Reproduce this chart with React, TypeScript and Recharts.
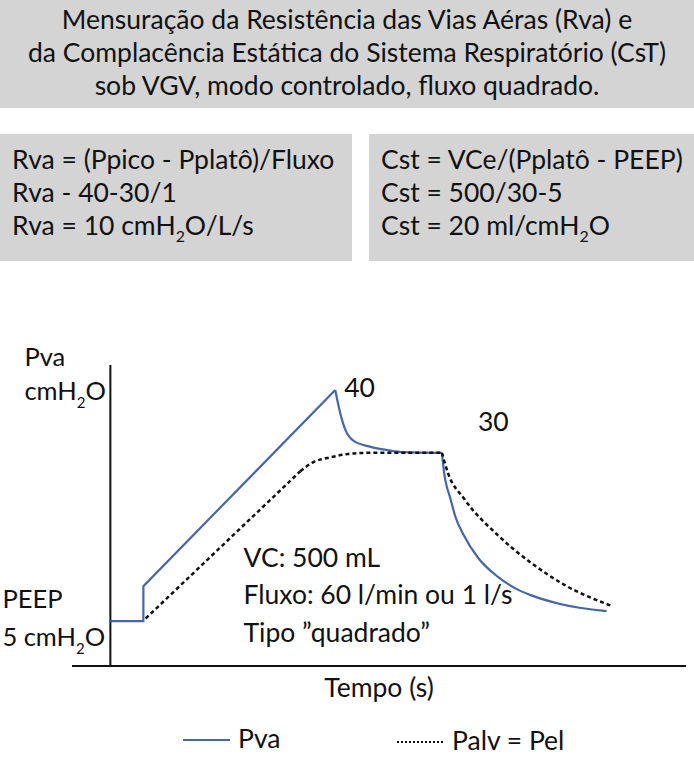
import React from "react";
import { LineChart, Line, XAxis, YAxis, ReferenceLine, ReferenceDot, Legend, Label } from "recharts";

const FONT = "Lato, 'Noto Sans', sans-serif";
const INK = "#111111";
const BOX_GREY = "#d4d4d4";
const PVA_BLUE = "#4666a9";
const FS = 26.5;

// texts of the header boxes
const titleLines = [
  "Mensuração da Resistência das Vias Aéras (Rva) e",
  "da Complacência Estática do Sistema Respiratório (CsT)",
  "sob VGV, modo controlado, fluxo quadrado.",
];
const rvaLines = ["Rva = (Ppico - Pplatô)/Fluxo", "Rva - 40-30/1", "Rva = 10 cmH2O/L/s"];
const cstLines = ["Cst = VCe/(Pplatô - PEEP)", "Cst = 500/30-5", "Cst = 20 ml/cmH2O"];
const noteLines = ["VC: 500 mL", "Fluxo: 60 l/min ou 1 l/s", "Tipo ”quadrado”"];

// Pva (airway pressure), time in s, pressure in cmH2O
const pvaRiseT = [0, 0.086, 0.086, 0.586];
const pvaRiseP = [5, 5, 10.3, 40];
const pvaHoldT = [0.586, 0.599, 0.613, 0.634, 0.678, 0.723, 0.764, 0.864];
const pvaHoldP = [40, 36.5, 33.9, 32.3, 31.4, 30.9, 30.6, 30.5];
const pvaFallT = [0.864, 0.869, 0.887, 0.898, 0.921, 0.958, 1.01, 1.054, 1.097, 1.172, 1.293];
const pvaFallP = [30.5, 27.8, 23.4, 21.0, 18.0, 14.6, 11.7, 10.0, 8.9, 7.6, 6.5];

// Palv = Pel (alveolar pressure)
const palvRiseT = [0.092, 0.495];
const palvRiseP = [5.4, 27.7];
const palvBendT = [0.495, 0.529, 0.573, 0.618, 0.678, 0.864];
const palvBendP = [27.7, 29.1, 29.8, 30.3, 30.5, 30.5];
const palvFallT = [0.864, 0.88, 0.921, 1.01, 1.097, 1.183, 1.306];
const palvFallP = [30.5, 27.4, 23.6, 18.0, 13.8, 10.5, 7.3];

const peakT = 0.586;
const peakP = 40;
const plateauEndT = 0.864;
const plateauP = 30.5;
const peepP = 5;
const noteT = 0.347;
const noteP = 13.2;

const toPoints = (t: number[], p: number[]) => t.map((v, i) => ({ t: v, p: p[i] }));

// "H2O" -> H with subscript 2, html version
const htmlSub = (s: string) => {
  const parts = s.split("H2O");
  return parts.map((part, i) => (
    <React.Fragment key={i}>
      {part}
      {i < parts.length - 1 && (
        <>
          H<span style={{ fontSize: "0.6em", position: "relative", top: "0.45em" }}>2</span>O
        </>
      )}
    </React.Fragment>
  ));
};

// same for svg text
const svgSub = (s: string) => {
  const parts = s.split("H2O");
  const out: React.ReactNode[] = [];
  parts.forEach((part, i) => {
    out.push(<tspan key={"p" + i}>{part}</tspan>);
    if (i < parts.length - 1) {
      out.push(<tspan key={"h" + i}>H</tspan>);
      out.push(<tspan key={"s" + i} dy={8} fontSize={15}>2</tspan>);
      out.push(<tspan key={"o" + i} dy={-8}>O</tspan>);
    }
  });
  return out;
};

const textProps = { fontFamily: FONT, fontSize: FS, fill: INK };
const sideProps = { ...textProps, fontSize: 25.5 };

const Box = ({ lines, style }: { lines: string[]; style: React.CSSProperties }) => (
  <div
    style={{
      position: "absolute",
      background: BOX_GREY,
      fontFamily: FONT,
      fontSize: FS,
      lineHeight: "33px",
      color: INK,
      boxSizing: "border-box",
      ...style,
    }}
  >
    {lines.map((l) => (
      <div key={l} style={{ whiteSpace: "nowrap" }}>{htmlSub(l)}</div>
    ))}
  </div>
);

const renderLegend = () => (
  <svg width={694} height={40} style={{ overflow: "visible" }}>
    <line x1={183} x2={230} y1={20} y2={20} stroke={PVA_BLUE} strokeWidth={2} />
    <text x={238} y={28} {...textProps}>Pva</text>
    <line x1={397} x2={443} y1={22} y2={22} stroke={INK} strokeWidth={2} strokeDasharray="2 2" />
    <text x={452} y={30} {...textProps}>Palv = Pel</text>
  </svg>
);

export default function App() {
  return (
    <div style={{ position: "absolute", left: 0, top: 0, width: 694, height: 760, background: "#fff" }}>
      <Box lines={titleLines} style={{ left: 0, top: 0, width: 694, height: 108, paddingTop: 3, textAlign: "center" }} />
      <Box lines={rvaLines} style={{ left: 0, top: 134, width: 352, height: 127, paddingTop: 9, paddingLeft: 12 }} />
      <Box lines={cstLines} style={{ left: 369, top: 134, width: 325, height: 127, paddingTop: 9, paddingLeft: 12 }} />

      <div style={{ position: "absolute", left: 0, top: 300 }}>
        <LineChart width={694} height={460} margin={{ top: 65, right: 8, left: 72, bottom: 64 }}>
          <XAxis
            type="number"
            dataKey="t"
            domain={[-0.1, 1.5]}
            allowDataOverflow
            ticks={[]}
            tick={false}
            tickLine={false}
            axisLine={{ stroke: INK, strokeWidth: 2 }}
            height={30}
          >
            <Label
              content={({ viewBox }: any) => (
                <text x={viewBox.x + viewBox.width / 2} y={viewBox.y + 31} textAnchor="middle" {...textProps}>
                  Tempo (s)
                </text>
              )}
            />
          </XAxis>
          <YAxis type="number" domain={[-1.8, 43.8]} allowDataOverflow hide width={0} />
          <ReferenceLine x={0} stroke={INK} strokeWidth={2} />

          <Line data={toPoints(pvaRiseT, pvaRiseP)} dataKey="p" type="linear" stroke={PVA_BLUE} strokeWidth={2.2} dot={false} isAnimationActive={false} />
          <Line data={toPoints(pvaHoldT, pvaHoldP)} dataKey="p" type="monotone" stroke={PVA_BLUE} strokeWidth={2.2} dot={false} isAnimationActive={false} />
          <Line data={toPoints(pvaFallT, pvaFallP)} dataKey="p" type="monotone" stroke={PVA_BLUE} strokeWidth={2.2} dot={false} isAnimationActive={false} />

          <Line data={toPoints(palvRiseT, palvRiseP)} dataKey="p" type="linear" stroke={INK} strokeWidth={2.5} strokeDasharray="4 3" dot={false} isAnimationActive={false} />
          <Line data={toPoints(palvBendT, palvBendP)} dataKey="p" type="monotone" stroke={INK} strokeWidth={2.5} strokeDasharray="4 3" dot={false} isAnimationActive={false} />
          <Line data={toPoints(palvFallT, palvFallP)} dataKey="p" type="monotone" stroke={INK} strokeWidth={2.5} strokeDasharray="4 3" dot={false} isAnimationActive={false} />

          {/* axis captions */}
          <ReferenceDot
            x={0}
            y={43.8}
            shape={(p: any) => (
              <g>
                <text x={p.cx - 86} y={p.cy + 1} {...sideProps}>Pva</text>
                <text x={p.cx - 86} y={p.cy + 35} {...sideProps}>{svgSub("cmH2O")}</text>
              </g>
            )}
          />
          <ReferenceDot
            x={0}
            y={peepP}
            shape={(p: any) => (
              <g>
                <text x={p.cx - 108} y={p.cy - 13} {...sideProps}>PEEP</text>
                <text x={p.cx - 108} y={p.cy + 25} {...sideProps}>{svgSub("5 cmH2O")}</text>
              </g>
            )}
          />
          <ReferenceDot
            x={peakT}
            y={peakP}
            shape={(p: any) => <text x={p.cx + 9} y={p.cy + 7} {...textProps}>40</text>}
          />
          <ReferenceDot
            x={plateauEndT}
            y={plateauP}
            shape={(p: any) => <text x={p.cx + 36} y={p.cy - 22} {...textProps}>30</text>}
          />
          <ReferenceDot
            x={noteT}
            y={noteP}
            shape={(p: any) => (
              <g>
                {noteLines.map((l, i) => (
                  <text key={l} x={p.cx} y={p.cy + i * 37.5} {...textProps}>{l}</text>
                ))}
              </g>
            )}
          />

          <Legend
            verticalAlign="middle"
            align="center"
            layout="horizontal"
            content={renderLegend}
            wrapperStyle={{ top: 420, left: 0, width: 694, height: 40 }}
          />
        </LineChart>
      </div>
    </div>
  );
}
